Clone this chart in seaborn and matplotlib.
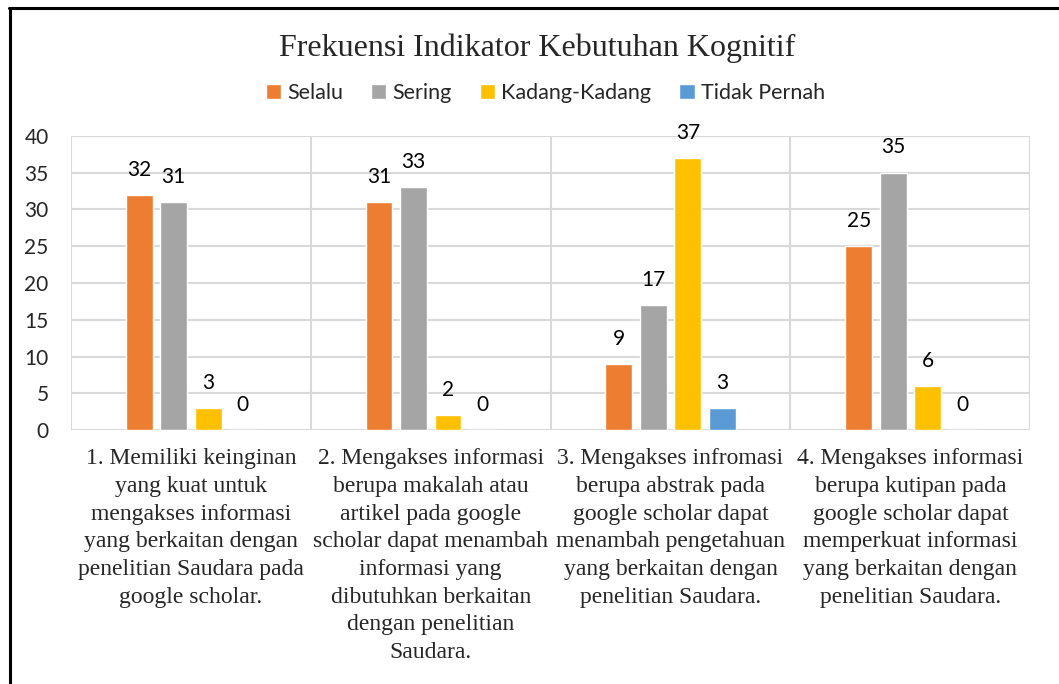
import pandas as pd
import matplotlib.pyplot as plt
import seaborn as sns
from matplotlib.lines import Line2D

# data
categories = [
    "1. Memiliki keinginan\nyang kuat untuk\nmengakses informasi\nyang berkaitan dengan\npenelitian Saudara pada\ngoogle scholar.",
    "2. Mengakses informasi\nberupa makalah atau\nartikel pada google\nscholar dapat menambah\ninformasi yang\ndibutuhkan berkaitan\ndengan penelitian\nSaudara.",
    "3. Mengakses infromasi\nberupa abstrak pada\ngoogle scholar dapat\nmenambah pengetahuan\nyang berkaitan dengan\npenelitian Saudara.",
    "4. Mengakses informasi\nberupa kutipan pada\ngoogle scholar dapat\nmemperkuat informasi\nyang berkaitan dengan\npenelitian Saudara.",
]
series = ["Selalu", "Sering", "Kadang-Kadang", "Tidak Pernah"]
selalu = [32, 31, 9, 25]
sering = [31, 33, 17, 35]
kadang = [3, 2, 37, 6]
tidak_pernah = [0, 0, 3, 0]
colors = ["#ED7D31", "#A5A5A5", "#FFC000", "#5B9BD5"]

rows = []
for name, vals in zip(series, [selalu, sering, kadang, tidak_pernah]):
    for cat, v in zip(categories, vals):
        rows.append({"kategori": cat, "seri": name, "nilai": v})
df = pd.DataFrame(rows)

sns.set_style("white")
sans = ["Lato", "DejaVu Sans"]
serif = ["Liberation Serif", "DejaVu Serif"]
plt.rcParams["font.family"] = sans

fig = plt.figure(figsize=(10.59, 6.84), dpi=100)
ax = fig.add_axes([0.067, 0.3713, 0.9059, 0.4299])

sns.barplot(data=df, x="kategori", y="nilai", hue="seri", palette=colors,
            width=0.575, gap=0.22, legend=False, ax=ax, saturation=1)

for cont in ax.containers:
    ax.bar_label(cont, padding=11, fontsize=15, color="#000000", fontfamily=sans)

ax.set_ylim(0, 40)
ax.set_yticks(range(0, 41, 5))
ax.set_xlim(-0.5, 3.5)
ax.set_xlabel("")
ax.set_ylabel("")
ax.set_axisbelow(True)
ax.yaxis.grid(True, color="#D9D9D9", linewidth=1.5)
for xv in [-0.5, 0.5, 1.5, 2.5, 3.5]:
    ax.axvline(xv, color="#D9D9D9", linewidth=1.5, zorder=0)
for s in ax.spines.values():
    s.set_visible(False)
ax.tick_params(axis="both", length=0)
ax.tick_params(axis="y", labelsize=15, pad=16)
ax.set_xticks(range(4))
ax.set_xticklabels(categories, fontfamily=serif, fontsize=17, linespacing=1.42,
                   va="top", ha="center")
ax.tick_params(axis="x", pad=13)

fig.text(0.507, 0.929, "Frekuensi Indikator Kebutuhan Kognitif", ha="center", va="center",
         fontsize=23, family=serif)

fig.legend(ax.containers, series, loc="center", bbox_to_anchor=(0.515, 0.864), ncol=4,
           frameon=False, fontsize=15.5, handlelength=0.7, handleheight=0.7,
           handletextpad=0.3, columnspacing=1.3)

# outer frame (left and top edges only)
fig.add_artist(Line2D([9.5 / 1059, 9.5 / 1059], [0, 1 - 7.5 / 684], color="black", linewidth=2.2))
fig.add_artist(Line2D([8.5 / 1059, 1], [1 - 7.5 / 684, 1 - 7.5 / 684], color="black", linewidth=2.2))

fig.savefig("out.png", dpi=100)
